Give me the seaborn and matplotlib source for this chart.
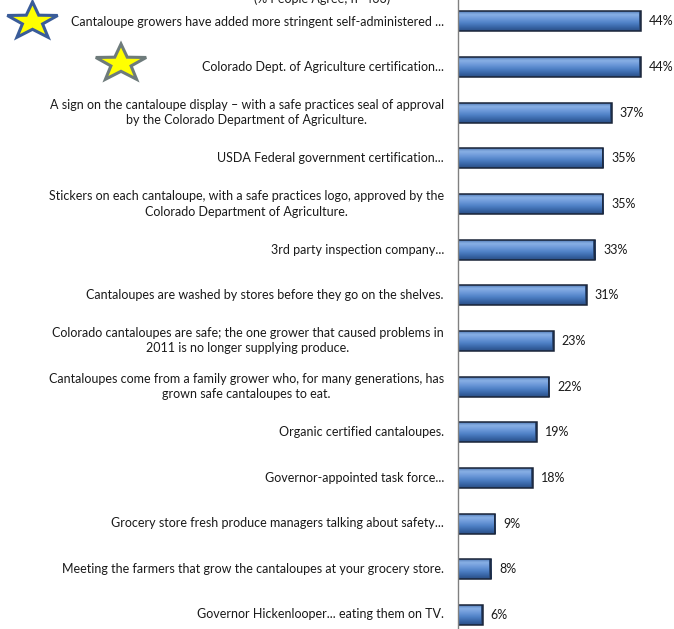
import numpy as np
import pandas as pd
import matplotlib
matplotlib.use("Agg")
import matplotlib.pyplot as plt
import seaborn as sns
from matplotlib.colors import LinearSegmentedColormap

statements = [
    "Cantaloupe growers have added more stringent self-administered ...",
    "Colorado Dept. of Agriculture certification...",
    "A sign on the cantaloupe display \u2013 with a safe practices seal of approval\nby the Colorado Department of Agriculture.",
    "USDA Federal government certification...",
    "Stickers on each cantaloupe, with a safe practices logo, approved by the\nColorado Department of Agriculture.",
    "3rd party inspection company...",
    "Cantaloupes are washed by stores before they go on the shelves.",
    "Colorado cantaloupes are safe; the one grower that caused problems in\n2011 is no longer supplying produce.",
    "Cantaloupes come from a family grower who, for many generations, has\ngrown safe cantaloupes to eat.",
    "Organic certified cantaloupes.",
    "Governor-appointed task force...",
    "Grocery store fresh produce managers talking about safety...",
    "Meeting the farmers that grow the cantaloupes at your grocery store.",
    "Governor Hickenlooper... eating them on TV.",
]
agree_pct = [44, 44, 37, 35, 35, 33, 31, 23, 22, 19, 18, 9, 8, 6]
subtitle = "(% People Agree; n=433)"

df = pd.DataFrame({"statement": statements, "pct": agree_pct})

sns.set_theme(style="white")
plt.rcParams["font.family"] = ["Lato", "DejaVu Sans"]

W, H = 674, 629
fig = plt.figure(figsize=(W / 100, H / 100), dpi=100)
ax_left = 458 / W
ax = fig.add_axes([ax_left, 0, 1 - ax_left, 1])

sns.barplot(data=df, x="pct", y="statement", orient="h",
            color="#4F81BD", width=0.44, ax=ax, saturation=1,
            edgecolor="#1A2438", linewidth=1.1)
bar_patches = list(ax.patches)

# bevelled gradient inside each bar, with a darker cap at the right end
cmap = LinearSegmentedColormap.from_list(
    "bevel", ["#3E6AA8", "#8AB1E6", "#6E9ADA", "#5183C8", "#3A68AA", "#2A4E85"])
grad = np.linspace(0, 1, 64).reshape(-1, 1)
for p in bar_patches:
    x0, y0 = p.get_x(), p.get_y()
    w, h = p.get_width(), p.get_height()
    im = ax.imshow(grad, cmap=cmap, aspect="auto",
                   extent=(x0, x0 + w, y0 + h, y0),
                   zorder=p.get_zorder() - 0.05, interpolation="bicubic")
    im.set_clip_path(p)
    p.set_facecolor("none")
    cap = plt.Rectangle((x0 + w - 0.45, y0), 0.45, h, facecolor="#2B4A78",
                        edgecolor="none", zorder=p.get_zorder() - 0.02)
    ax.add_patch(cap)

ax.set_xlim(0, 52.0)
ax.set_ylim(13.31, -0.47)
ax.set_xlabel("")
ax.set_ylabel("")
ax.set_xticks([])
ax.set_yticks([])
for side in ("top", "right", "bottom"):
    ax.spines[side].set_visible(False)
ax.spines["left"].set_color("#808080")
ax.spines["left"].set_linewidth(1.0)
ax.spines["left"].set_zorder(5)

# value labels beside each bar
for i, v in enumerate(agree_pct):
    ax.text(v + 1.9, i, f"{v}%", ha="left", va="center",
            fontsize=9, color="#1a1a1a")

# category labels to the left of the axis
label_x = 444 / W
for i, s in enumerate(statements):
    y_fig = 1 - (21.5 + i * 45.6) / H
    fig.text(label_x, y_fig, s, ha="right", va="center",
             multialignment="center", fontsize=9, color="#1a1a1a",
             linespacing=1.35)

fig.text(322 / W, 1 + 1 / H, subtitle, ha="center", va="center",
         fontsize=9, color="#1a1a1a")

# highlight stars
def star(cx, cy, rx, ry, edge):
    ang = np.pi / 2 + np.arange(10) * np.pi / 5
    k = np.where(np.arange(10) % 2 == 0, 1.0, 0.40)
    xs = (cx + rx * k * np.cos(ang)) / W
    ys = 1 - (cy - ry * k * np.sin(ang)) / H
    poly = plt.Polygon(np.column_stack([xs, ys]), closed=True,
                       facecolor="#FFFF00", edgecolor=edge, linewidth=2.2,
                       transform=fig.transFigure, joinstyle="miter")
    fig.patches.append(poly)

star(32.5, 21.5, 26.5, 19.5, "#3A5C99")
star(121, 63.5, 26.5, 19.5, "#6E7B7B")

fig.savefig("out.png", dpi=100)
